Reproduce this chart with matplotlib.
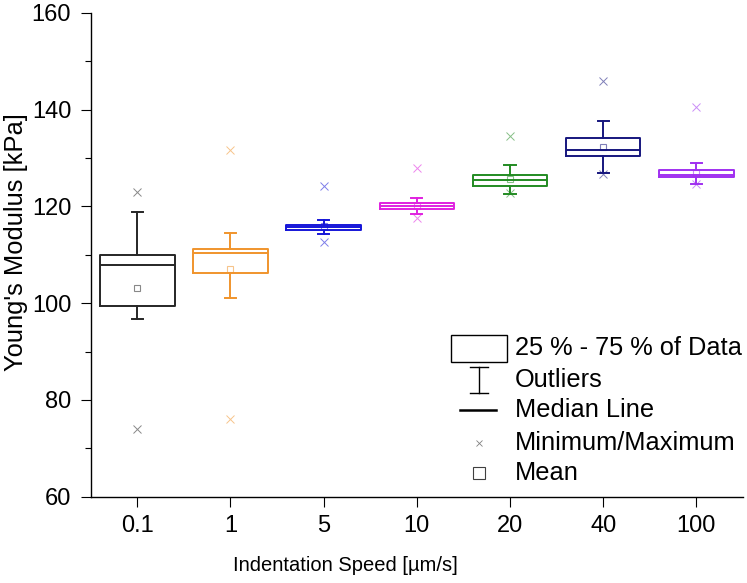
import matplotlib
matplotlib.use('Agg')
import matplotlib.pyplot as plt
from matplotlib.patches import Rectangle

plt.rcParams['font.family'] = ['Liberation Sans', 'DejaVu Sans']

# indentation speeds [um/s]
speeds = ['0.1', '1', '5', '10', '20', '40', '100']
# box statistics [kPa]
q1 = [99.5, 106.2, 115.2, 119.5, 124.3, 130.5, 126.1]
med = [107.9, 110.4, 115.7, 120.1, 125.4, 131.6, 126.4]
q3 = [110.0, 111.2, 116.2, 120.6, 126.5, 134.2, 127.6]
whislo = [96.7, 101.1, 114.3, 118.4, 122.5, 126.9, 124.6]
whishi = [118.8, 114.5, 117.2, 121.7, 128.5, 137.7, 128.9]
means = [103.1, 107.0, 115.9, 120.1, 125.6, 132.3, 127.0]
mins = [74.0, 76.0, 112.7, 117.6, 122.8, 126.6, 124.7]
maxs = [123.0, 131.6, 124.3, 127.9, 134.5, 146.0, 140.6]

colors = ['#262626', '#F0942C', '#1515D8', '#E020E0', '#228B22', '#16167E', '#A030F0']

fig = plt.figure(figsize=(7.47, 5.83), dpi=100)
ax = fig.add_axes([0.1214, 0.148, 0.8732, 0.830])

stats = []
for i in range(len(speeds)):
    stats.append({'q1': q1[i], 'med': med[i], 'q3': q3[i],
                  'whislo': whislo[i], 'whishi': whishi[i],
                  'mean': means[i], 'fliers': [mins[i], maxs[i]]})

pos = list(range(1, len(speeds) + 1))
art = ax.bxp(stats, positions=pos, widths=0.8, capwidths=0.12,
             showmeans=True, showfliers=True)

for i, c in enumerate(colors):
    art['boxes'][i].set(color=c, linewidth=1.4)
    art['medians'][i].set(color=c, linewidth=1.4)
    for k in (2 * i, 2 * i + 1):
        art['whiskers'][k].set(color=c, linewidth=1.4)
        art['caps'][k].set(color=c, linewidth=1.4)
    art['fliers'][i].set(marker='x', markeredgecolor=c, markersize=6,
                         markeredgewidth=0.7, alpha=0.55, linestyle='none')
    art['means'][i].set(marker='s', markerfacecolor='none', markeredgecolor=c,
                        markersize=4.5, markeredgewidth=0.8, alpha=0.55)

ax.set_xlim(0.5, 7.5)
ax.set_ylim(60, 160)
ax.set_xticks(pos)
ax.set_xticklabels(speeds)
ax.set_yticks(range(60, 161, 20))
ax.set_yticks(range(70, 160, 20), minor=True)

for s in ('top', 'right'):
    ax.spines[s].set_visible(False)
for s in ('left', 'bottom'):
    ax.spines[s].set_linewidth(1.0)

ax.tick_params(axis='both', which='major', direction='out', length=7,
               width=0.8, labelsize=17)
ax.tick_params(axis='y', which='minor', direction='out', length=4, width=0.8)
ax.tick_params(axis='y', pad=7)
ax.tick_params(axis='x', pad=6)

ax.set_ylabel("Young's Modulus [kPa]", fontsize=18.4)
ax.yaxis.set_label_coords(-0.096, 0.527)
ax.set_xlabel('Indentation Speed [µm/s]', fontsize=14.5)
ax.xaxis.set_label_coords(0.39, -0.122)

# legend drawn by hand, in axes fractions
tr = ax.transAxes
kw = dict(transform=tr, clip_on=False)
ax.add_patch(Rectangle((0.552, 0.279), 0.086, 0.055, fill=False,
                       edgecolor='black', linewidth=1.0, **kw))
ax.plot([0.595, 0.595], [0.215, 0.269], color='black', linewidth=1.0, **kw)
ax.plot([0.581, 0.609], [0.269, 0.269], color='black', linewidth=1.0, **kw)
ax.plot([0.581, 0.609], [0.215, 0.215], color='black', linewidth=1.0, **kw)
ax.plot([0.566, 0.621], [0.179, 0.179], color='black', linewidth=1.8, **kw)
ax.plot([0.595], [0.111], marker='x', color='#808080', markersize=5,
        markeredgewidth=0.6, **kw)
ax.plot([0.595], [0.049], marker='s', markerfacecolor='none',
        markeredgecolor='#404040', markersize=8.5, markeredgewidth=0.8, **kw)

labels = ['25 % - 75 % of Data', 'Outliers', 'Median Line',
          'Minimum/Maximum', 'Mean']
rows = [0.307, 0.241, 0.179, 0.111, 0.049]
for lab, y in zip(labels, rows):
    ax.text(0.650, y, lab, transform=tr, fontsize=18.3, va='center', ha='left')

fig.savefig('out.png', dpi=100)
